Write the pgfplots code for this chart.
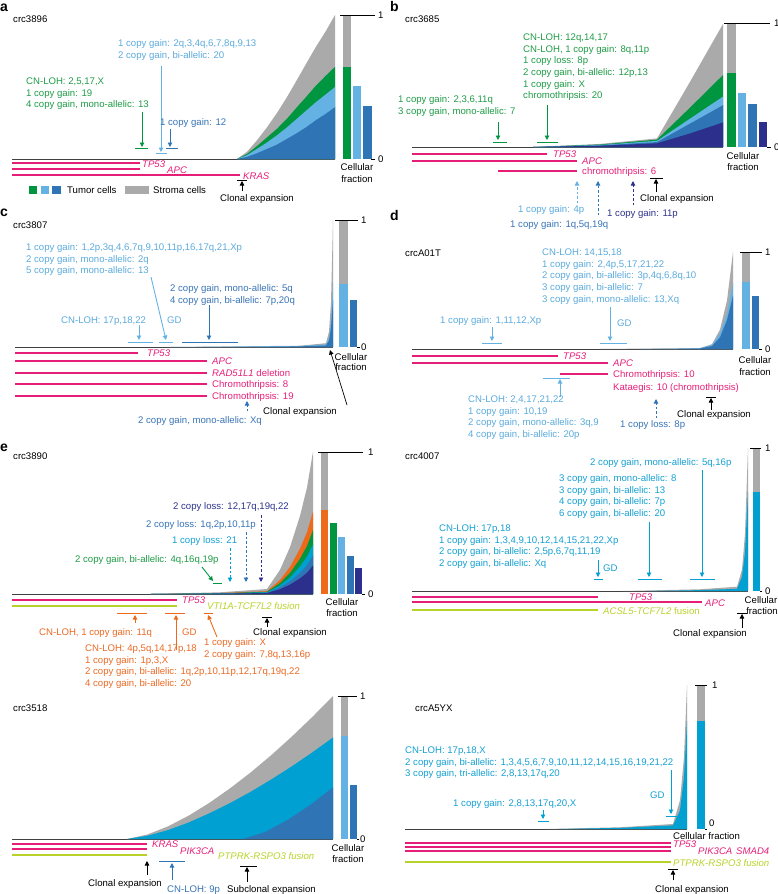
\documentclass[border=0pt]{standalone}
\usepackage{pgfplots}
\pgfplotsset{compat=1.18}
\usetikzlibrary{arrows.meta}
\usepackage{fontspec}
\setmainfont{Liberation Sans}

\definecolor{cgray}{RGB}{170,170,170}
\definecolor{cgreen}{RGB}{0,150,64}
\definecolor{clblue}{RGB}{100,178,228}
\definecolor{cblue}{RGB}{47,117,182}
\definecolor{cnavy}{RGB}{44,48,140}
\definecolor{ccyan}{RGB}{0,160,210}
\definecolor{corange}{RGB}{238,106,27}
\definecolor{cpink}{RGB}{230,30,120}
\definecolor{clime}{RGB}{185,210,40}
\definecolor{tgreen}{RGB}{30,155,70}
\definecolor{tlblue}{RGB}{90,170,220}
\definecolor{tblue}{RGB}{55,115,180}
\definecolor{tcyan}{RGB}{20,160,210}
\definecolor{tnavy}{RGB}{45,50,140}
\definecolor{torange}{RGB}{235,105,35}

\newcommand{\fs}{\fontsize{9.6}{11.7}\selectfont}
\tikzset{
  lbl/.style={anchor=west, inner sep=0pt, text height=6.9pt, text depth=0pt, font=\fs},
  arr/.style={-{Triangle[length=4.5pt,width=4.5pt]}, line width=0.9pt},
  tb/.style={line width=0.9pt},
  mut/.style={line width=1.1pt},
  lett/.style={anchor=base west, inner sep=0pt, font=\bfseries\fontsize{14}{14}\selectfont},
  dsh/.style={dash pattern=on 2.5pt off 2pt}
}
\pgfplotsset{panel/.style={scale only axis, hide axis, clip=false, ymin=0, ymax=1, anchor=south west}}
% one text line after another, 11.7pt apart
\newcommand{\txt}[4]{\foreach \tline [count=\i from 0] in {#4} {\node[lbl,text=#1] at (#2,{#3+11.7*\i}) {\tline};}}
% fraction-axis ticks: top line, zero tick
\newcommand{\cfticks}[7]{%
  \draw[tb] (#1,#3) -- (#2,#3); \node[lbl] at (#7,#3) {1};
  \draw[tb] (#5,#4) -- (#6,#4); \node[lbl] at (#7,#4) {0};}

\begin{document}
\begin{tikzpicture}[x=1pt,y=-1pt]
\useasboundingbox (0,0) rectangle (778,894);

%% ---------------- a : crc3896
\begin{axis}[panel, at={(12pt,-159pt)}, xmin=12, xmax=375, width=363pt, height=144pt]
\addplot[black!75, line width=0.8pt] coordinates {(12,0) (335,0)};
\addplot[fill=cgray, draw=none] coordinates {(237,0) (247,0.05) (257,0.13) (267,0.22) (277,0.32) (287,0.43) (297,0.55) (306,0.66) (316,0.78) (326,0.89) (335,1)} \closedcycle;
\addplot[fill=cgreen, draw=none] coordinates {(237,0) (247,0.035) (257,0.09) (267,0.15) (277,0.21) (287,0.28) (297,0.36) (306,0.43) (316,0.51) (326,0.58) (335,0.64)} \closedcycle;
\addplot[fill=clblue, draw=none] coordinates {(237,0) (247,0.027) (257,0.07) (267,0.115) (277,0.165) (287,0.22) (297,0.28) (306,0.335) (316,0.395) (326,0.45) (335,0.5)} \closedcycle;
\addplot[fill=cblue, draw=none] coordinates {(237,0) (247,0.015) (257,0.04) (267,0.07) (277,0.1) (287,0.14) (297,0.18) (306,0.22) (316,0.27) (326,0.315) (335,0.36)} \closedcycle;
\addplot[ybar, bar width=8.5, bar shift=0pt, fill=cgray, draw=none] coordinates {(347,1)};
\addplot[ybar, bar width=8.5, bar shift=0pt, fill=cgreen, draw=none] coordinates {(347,0.64)};
\addplot[ybar, bar width=8, bar shift=0pt, fill=clblue, draw=none] coordinates {(357,0.51)};
\addplot[ybar, bar width=8.5, bar shift=0pt, fill=cblue, draw=none] coordinates {(367.5,0.37)};
\end{axis}
\cfticks{340}{375}{15}{159}{371}{375}{378}
\node[lbl,anchor=center] at (357,167) {Cellular};
\node[lbl,anchor=center] at (357,179) {fraction};
\node[lett] at (0,11) {a};
\node[lbl] at (13,19) {crc3896};
\txt{tlblue}{118}{43}{{1 copy gain: 2q,3,4q,6,7,8q,9,13},{2 copy gain, bi-allelic: 20}}
\draw[arr,clblue] (161,66) -- (161,152); \draw[tb,clblue] (156,153) -- (167,153);
\txt{tgreen}{26}{81}{{CN-LOH: 2,5,17,X},{1 copy gain: 19},{4 copy gain, mono-allelic: 13}}
\draw[arr,cgreen] (142,112) -- (142,147); \draw[tb,cgreen] (135,148) -- (148,148);
\node[lbl,text=tblue] at (160,122) {1 copy gain: 12};
\draw[arr,cblue] (170,129) -- (170,147); \draw[tb,cblue] (166,148) -- (178,148);
\draw[mut,cpink] (12,163) -- (140,163); \draw[mut,cpink] (12,169) -- (140,169); \draw[mut,cpink] (12,175) -- (240,175);
\node[lbl,text=cpink] at (142,164) {\itshape TP53};
\node[lbl,text=cpink] at (167,170) {\itshape APC};
\node[lbl,text=cpink] at (243,176) {\itshape KRAS};
\draw[arr,black,line width=0.7pt] (242,191) -- (242,181); \draw[black,line width=0.7pt] (237,180) -- (247,180);
\node[lbl] at (220,198) {Clonal expansion};
\fill[cgreen] (29,186) rectangle (37,194); \fill[clblue] (41,186) rectangle (49,194); \fill[cblue] (52,186) rectangle (61,194);
\node[lbl] at (67,190) {Tumor cells};
\fill[cgray] (125,186) rectangle (149,194);
\node[lbl] at (153,190) {Stroma cells};

%% ---------------- b : crc3685
\begin{axis}[panel, at={(412pt,-147pt)}, xmin=412, xmax=770, width=358pt, height=123pt]
\addplot[black!75, line width=0.8pt] coordinates {(412,0) (723,0)};
\addplot[fill=cgray, draw=none] coordinates {(533,0) (600,0.025) (657,0.07) (690,0.53) (723,1)} \closedcycle;
\addplot[fill=cgreen, draw=none] coordinates {(533,0) (600,0.02) (657,0.06) (690,0.32) (723,0.585)} \closedcycle;
\addplot[fill=clblue, draw=none] coordinates {(533,0) (600,0.016) (657,0.05) (690,0.23) (723,0.41)} \closedcycle;
\addplot[fill=cblue, draw=none] coordinates {(533,0) (600,0.013) (657,0.04) (690,0.19) (723,0.34)} \closedcycle;
\addplot[fill=cnavy, draw=none] coordinates {(533,0) (600,0.01) (657,0.03) (690,0.11) (723,0.2)} \closedcycle;
\addplot[ybar, bar width=9, bar shift=0pt, fill=cgray, draw=none] coordinates {(731.5,1)};
\addplot[ybar, bar width=9, bar shift=0pt, fill=cgreen, draw=none] coordinates {(731.5,0.6)};
\addplot[ybar, bar width=8.5, bar shift=0pt, fill=clblue, draw=none] coordinates {(742,0.44)};
\addplot[ybar, bar width=8.5, bar shift=0pt, fill=cblue, draw=none] coordinates {(752.5,0.35)};
\addplot[ybar, bar width=8.5, bar shift=0pt, fill=cnavy, draw=none] coordinates {(763,0.2)};
\end{axis}
\cfticks{724}{770}{23}{147}{767}{771}{774}
\node[lbl,anchor=center] at (743,156) {Cellular};
\node[lbl,anchor=center] at (743,167) {fraction};
\node[lett] at (390,11) {b};
\node[lbl] at (405,19) {crc3685};
\txt{tgreen}{523}{37}{{CN-LOH: 12q,14,17},{CN-LOH, 1 copy gain: 8q,11p},{1 copy loss: 8p},{2 copy gain, bi-allelic: 12p,13},{1 copy gain: X},{chromothripsis: 20}}
\txt{tgreen}{398}{99}{{1 copy gain: 2,3,6,11q},{3 copy gain, mono-allelic: 7}}
\draw[arr,cgreen] (498,122) -- (498,140); \draw[tb,cgreen] (493,142) -- (507,142);
\draw[arr,cgreen] (547,105) -- (547,140); \draw[tb,cgreen] (537,142) -- (558,142);
\draw[mut,cpink] (412,154) -- (547,154); \draw[mut,cpink] (412,161) -- (577,161); \draw[mut,cpink] (498,171) -- (577,171);
\node[lbl,text=cpink] at (553,154) {\itshape TP53};
\node[lbl,text=cpink] at (582,161) {\itshape APC};
\node[lbl,text=cpink] at (582,171) {chromothripsis: 6};
\draw[arr,dsh,clblue] (577,203) -- (577,181);
\draw[arr,dsh,cblue] (598,215) -- (598,181);
\draw[arr,dsh,cnavy] (633,205) -- (633,181);
\node[lbl,text=tlblue] at (518,209) {1 copy gain: 4p};
\node[lbl,text=tblue] at (510,224) {1 copy gain: 1q,5q,19q};
\node[lbl,text=tnavy] at (607,213) {1 copy gain: 11p};
\draw[arr,black,line width=0.7pt] (656,192) -- (656,179); \draw[black,line width=0.7pt] (650,178) -- (663,178);
\node[lbl] at (640,198) {Clonal expansion};

%% ---------------- c : crc3807
\begin{axis}[panel, at={(15pt,-347pt)}, xmin=15, xmax=362, width=347pt, height=127pt]
\addplot[black!75, line width=0.8pt] coordinates {(15,0) (333,0)};
\addplot[fill=cgray, draw=none] coordinates {(170,0) (300,0.01) (326,0.03) (329,0.12) (331,0.35) (333,1)} \closedcycle;
\addplot[fill=clblue, draw=none] coordinates {(170,0) (300,0.008) (326,0.02) (329,0.07) (331,0.2) (333,0.5)} \closedcycle;
\addplot[fill=cblue, draw=none] coordinates {(250,0) (300,0.005) (326,0.012) (329,0.05) (331,0.15) (333,0.37)} \closedcycle;
\addplot[ybar, bar width=9, bar shift=0pt, fill=cgray, draw=none] coordinates {(343.5,1)};
\addplot[ybar, bar width=9, bar shift=0pt, fill=clblue, draw=none] coordinates {(343.5,0.5)};
\addplot[ybar, bar width=7.5, bar shift=0pt, fill=cblue, draw=none] coordinates {(353.5,0.37)};
\end{axis}
\cfticks{335}{358}{220}{347}{357}{360}{361}
\node[lbl,anchor=center] at (351,357) {Cellular};
\node[lbl,anchor=center] at (351,367) {fraction};
\node[lett] at (0,216) {c};
\node[lbl] at (13,225) {crc3807};
\txt{tlblue}{26}{247}{{1 copy gain: 1,2p,3q,4,6,7q,9,10,11p,16,17q,21,Xp},{2 copy gain, mono-allelic: 2q},{5 copy gain, mono-allelic: 13}}
\txt{tblue}{170}{288}{{2 copy gain, mono-allelic: 5q},{4 copy gain, bi-allelic: 7p,20q}}
\node[lbl,text=tlblue] at (61,320) {CN-LOH: 17p,18,22};
\node[lbl,text=tlblue] at (167,320) {GD};
\draw[arr,clblue] (139,325) -- (139,340); \draw[tb,clblue] (128,342) -- (153,342);
\draw[arr,clblue] (151,277) -- (166,340); \draw[tb,clblue] (159,342) -- (173,342);
\draw[arr,cblue] (209,305) -- (209,340); \draw[tb,cblue] (182,342) -- (238,342);
\draw[mut,cpink] (15,353) -- (138,353); \node[lbl,text=cpink] at (147,353) {\itshape TP53};
\draw[mut,cpink] (15,361) -- (207,361); \node[lbl,text=cpink] at (212,361) {\itshape APC};
\draw[mut,cpink] (15,373) -- (207,373); \node[lbl,text=cpink] at (212,373) {{\itshape RAD51L1} deletion};
\draw[mut,cpink] (15,384) -- (207,384); \node[lbl,text=cpink] at (212,384) {Chromothripsis: 8};
\draw[mut,cpink] (15,396) -- (207,396); \node[lbl,text=cpink] at (212,396) {Chromothripsis: 19};
\draw[arr,dsh,cblue] (247,411) -- (247,401);
\node[lbl,text=tblue] at (138,420) {2 copy gain, mono-allelic: Xq};
\draw[arr,black,line width=0.7pt] (347,405) -- (330,350);
\node[lbl] at (263,411) {Clonal expansion};

%% ---------------- d : crcA01T
\begin{axis}[panel, at={(412pt,-349pt)}, xmin=412, xmax=765, width=353pt, height=97pt]
\addplot[black!75, line width=0.8pt] coordinates {(412,0) (733,0)};
\addplot[fill=cgray, draw=none] coordinates {(600,0) (700,0.01) (712,0.05) (720,0.2) (727,0.5) (733,1)} \closedcycle;
\addplot[fill=clblue, draw=none] coordinates {(640,0) (700,0.008) (712,0.04) (720,0.16) (727,0.36) (733,0.69)} \closedcycle;
\addplot[fill=cblue, draw=none] coordinates {(680,0) (700,0.005) (712,0.03) (720,0.12) (727,0.3) (733,0.55)} \closedcycle;
\addplot[ybar, bar width=8, bar shift=0pt, fill=cgray, draw=none] coordinates {(746,1)};
\addplot[ybar, bar width=8, bar shift=0pt, fill=clblue, draw=none] coordinates {(746,0.69)};
\addplot[ybar, bar width=7, bar shift=0pt, fill=cblue, draw=none] coordinates {(755.5,0.55)};
\end{axis}
\cfticks{740}{762}{252}{349}{759}{762}{765}
\node[lbl,anchor=center] at (755,360) {Cellular};
\node[lbl,anchor=center] at (755,372) {fraction};
\node[lett] at (390,220) {d};
\node[lbl] at (405,253) {crcA01T};
\txt{tlblue}{542}{252}{{CN-LOH: 14,15,18},{1 copy gain: 2,4p,5,17,21,22},{2 copy gain, bi-allelic: 3p,4q,6,8q,10},{3 copy gain, bi-allelic: 7},{3 copy gain, mono-allelic: 13,Xq}}
\node[lbl,text=tlblue] at (440,320) {1 copy gain: 1,11,12,Xp};
\draw[arr,clblue] (492,327) -- (492,341); \draw[tb,clblue] (482,343) -- (502,343);
\node[lbl,text=tlblue] at (617,323) {GD};
\draw[arr,clblue] (610,307) -- (610,341); \draw[tb,clblue] (600,343) -- (627,343);
\draw[mut,cpink] (412,356) -- (558,356); \node[lbl,text=cpink] at (563,356) {\itshape TP53};
\draw[mut,cpink] (412,363) -- (608,363); \node[lbl,text=cpink] at (613,363) {\itshape APC};
\draw[mut,cpink] (560,374) -- (608,374); \node[lbl,text=cpink] at (613,374) {Chromothripsis: 10};
\node[lbl,text=cpink] at (613,387) {Kataegis: 10 (chromothripsis)};
\draw[arr,clblue] (560,397) -- (560,379); \draw[tb,clblue] (543,378) -- (570,378);
\txt{tlblue}{468}{399}{{CN-LOH: 2,4,17,21,22},{1 copy gain: 10,19},{2 copy gain, mono-allelic: 3q,9},{4 copy gain, bi-allelic: 20p}}
\draw[arr,dsh,cblue] (656,418) -- (656,399);
\node[lbl,text=tblue] at (620,424) {1 copy loss: 8p};
\draw[arr,black,line width=0.7pt] (711,410) -- (711,398); \draw[black,line width=0.7pt] (706,397) -- (716,397);
\node[lbl] at (677,414) {Clonal expansion};

%% ---------------- e : crc3890
\begin{axis}[panel, at={(12pt,-594pt)}, xmin=12, xmax=368, width=356pt, height=142pt]
\addplot[black!75, line width=0.8pt] coordinates {(12,0) (313,0)};
\addplot[fill=cgray, draw=none] coordinates {(150,0) (220,0.012) (267,0.035) (280,0.17) (290,0.33) (300,0.55) (307,0.75) (313,1)} \closedcycle;
\addplot[fill=corange, draw=none] coordinates {(150,0) (220,0.007) (267,0.02) (280,0.099) (290,0.191) (300,0.319) (307,0.435) (313,0.58)} \closedcycle;
\addplot[fill=cgreen, draw=none] coordinates {(150,0) (220,0.005) (267,0.016) (280,0.077) (290,0.149) (300,0.248) (307,0.338) (313,0.45)} \closedcycle;
\addplot[fill=ccyan, draw=none] coordinates {(150,0) (220,0.004) (267,0.012) (280,0.06) (290,0.116) (300,0.193) (307,0.263) (313,0.35)} \closedcycle;
\addplot[fill=cblue, draw=none] coordinates {(150,0) (220,0.003) (267,0.009) (280,0.046) (290,0.089) (300,0.149) (307,0.203) (313,0.27)} \closedcycle;
\addplot[fill=cnavy, draw=none] coordinates {(150,0) (220,0.002) (267,0.007) (280,0.034) (290,0.066) (300,0.11) (307,0.15) (313,0.2)} \closedcycle;
\addplot[ybar, bar width=7, bar shift=0pt, fill=cgray, draw=none] coordinates {(324.5,1)};
\addplot[ybar, bar width=7, bar shift=0pt, fill=corange, draw=none] coordinates {(324.5,0.59)};
\addplot[ybar, bar width=7, bar shift=0pt, fill=cgreen, draw=none] coordinates {(333.5,0.5)};
\addplot[ybar, bar width=7, bar shift=0pt, fill=clblue, draw=none] coordinates {(341.5,0.4)};
\addplot[ybar, bar width=7, bar shift=0pt, fill=cblue, draw=none] coordinates {(350,0.27)};
\addplot[ybar, bar width=7, bar shift=0pt, fill=cnavy, draw=none] coordinates {(358.5,0.18)};
\end{axis}
\cfticks{318}{363}{452}{594}{362}{365}{368}
\node[lbl,anchor=center] at (342,602) {Cellular};
\node[lbl,anchor=center] at (342,613) {fraction};
\node[lett] at (0,451) {e};
\node[lbl] at (13,456) {crc3890};
\node[lbl,text=tnavy] at (173,506) {2 copy loss: 12,17q,19q,22};
\node[lbl,text=tblue] at (146,524) {2 copy loss: 1q,2p,10,11p};
\node[lbl,text=tcyan] at (172,540) {1 copy loss: 21};
\node[lbl,text=tgreen] at (75,559) {2 copy gain, bi-allelic: 4q,16q,19p};
\draw[arr,dsh,cnavy] (261,515) -- (261,582);
\draw[arr,dsh,cblue] (246,532) -- (246,582);
\draw[arr,dsh,ccyan] (230,548) -- (230,582);
\draw[arr,cgreen] (202,567) -- (213,581); \draw[tb,cgreen] (213,583) -- (222,583);
\draw[mut,cpink] (12,600) -- (177,600); \node[lbl,text=cpink] at (182,600) {\itshape TP53};
\draw[mut,clime] (12,606) -- (177,606); \node[lbl,text=clime] at (207,606) {\itshape VTI1A-TCF7L2 fusion};
\draw[arr,corange] (135,623) -- (135,615); \draw[tb,corange] (117,613) -- (147,613);
\draw[arr,corange] (176,650) -- (176,615); \draw[tb,corange] (165,613) -- (185,613);
\draw[arr,corange] (217,637) -- (208,615); \draw[tb,corange] (204,613) -- (213,613);
\node[lbl,text=torange] at (39,632) {CN-LOH, 1 copy gain: 11q};
\node[lbl,text=torange] at (182,632) {GD};
\txt{torange}{204}{642}{{1 copy gain: X},{2 copy gain: 7,8q,13,16p}}
\txt{torange}{85}{648}{{CN-LOH: 4p,5q,14,17p,18},{1 copy gain: 1p,3,X},{2 copy gain, bi-allelic: 1q,2p,10,11p,12,17q,19q,22},{4 copy gain, bi-allelic: 20}}
\draw[arr,black,line width=0.7pt] (267,627) -- (267,618); \draw[black,line width=0.7pt] (262,617) -- (272,617);
\node[lbl] at (253,632) {Clonal expansion};

%% ---------------- crc4007
\begin{axis}[panel, at={(412pt,-591pt)}, xmin=412, xmax=765, width=353pt, height=143pt]
\addplot[black!75, line width=0.8pt] coordinates {(412,0) (748,0)};
\addplot[fill=cgray, draw=none] coordinates {(623,0) (700,0.012) (737,0.03) (742,0.15) (745,0.4) (748,1)} \closedcycle;
\addplot[fill=ccyan, draw=none] coordinates {(650,0) (700,0.006) (737,0.015) (742,0.1) (745,0.27) (748,0.69)} \closedcycle;
\addplot[ybar, bar width=7, bar shift=0pt, fill=cgray, draw=none] coordinates {(756.5,1)};
\addplot[ybar, bar width=7, bar shift=0pt, fill=ccyan, draw=none] coordinates {(756.5,0.69)};
\end{axis}
\cfticks{750}{761}{448}{591}{760}{762}{765}
\node[lbl,anchor=center] at (761,600) {Cellular};
\node[lbl,anchor=center] at (762,611) {fraction};
\node[lbl] at (405,456) {crc4007};
\node[lbl,text=tcyan] at (590,462) {2 copy gain, mono-allelic: 5q,16p};
\txt{tcyan}{559}{478}{{3 copy gain, mono-allelic: 8},{3 copy gain, bi-allelic: 13},{4 copy gain, bi-allelic: 7p},{6 copy gain, bi-allelic: 20}}
\txt{tcyan}{439}{528}{{CN-LOH: 17p,18},{1 copy gain: 1,3,4,9,10,12,14,15,21,22,Xp},{2 copy gain, bi-allelic: 2,5p,6,7q,11,19},{2 copy gain, bi-allelic: Xq}}
\node[lbl,text=tcyan] at (603,568) {GD};
\draw[arr,ccyan] (598,560) -- (598,577); \draw[tb,ccyan] (594,579) -- (603,579);
\draw[arr,ccyan] (649,522) -- (649,577); \draw[tb,ccyan] (638,579) -- (662,579);
\draw[arr,ccyan] (702,470) -- (702,577); \draw[tb,ccyan] (690,579) -- (715,579);
\draw[mut,cpink] (412,597) -- (598,597); \node[lbl,text=cpink] at (629,597) {\itshape TP53};
\draw[mut,cpink] (412,602) -- (702,602); \node[lbl,text=cpink] at (705,603) {\itshape APC};
\draw[mut,clime] (412,610) -- (598,610); \node[lbl,text=clime] at (603,611) {{\itshape ACSL5-TCF7L2} fusion};
\draw[arr,black,line width=0.7pt] (742,628) -- (742,614); \draw[black,line width=0.7pt] (737,613) -- (747,613);
\node[lbl] at (673,633) {Clonal expansion};

%% ---------------- crc3518
\begin{axis}[panel, at={(12pt,-839pt)}, xmin=12, xmax=360, width=348pt, height=143pt]
\addplot[black!75, line width=0.8pt] coordinates {(12,0) (333,0)};
\addplot[fill=cgray, draw=none] coordinates {(127,0) (147.6,0.032) (168.2,0.089) (188.8,0.164) (209.4,0.253) (230,0.354) (250.6,0.465) (271.2,0.586) (291.8,0.716) (312.4,0.854) (333,1)} \closedcycle;
\addplot[fill=ccyan, draw=none] coordinates {(127,0) (147.6,0.023) (168.2,0.063) (188.8,0.116) (209.4,0.18) (230,0.251) (250.6,0.33) (271.2,0.416) (291.8,0.508) (312.4,0.606) (333,0.71)} \closedcycle;
\addplot[fill=cblue, draw=none] coordinates {(243,0) (265.5,0.05) (288,0.135) (310.5,0.24) (333,0.36)} \closedcycle;
\addplot[ybar, bar width=7, bar shift=0pt, fill=cgray, draw=none] coordinates {(344.5,1)};
\addplot[ybar, bar width=7, bar shift=0pt, fill=clblue, draw=none] coordinates {(344.5,0.72)};
\addplot[ybar, bar width=7, bar shift=0pt, fill=cblue, draw=none] coordinates {(353.5,0.38)};
\end{axis}
\cfticks{338}{357}{696}{839}{357}{359}{360}
\node[lbl,anchor=center] at (348,848) {Cellular};
\node[lbl,anchor=center] at (348,859) {fraction};
\node[lbl] at (13,708) {crc3518};
\draw[mut,cpink] (12,844) -- (147,844); \draw[mut,cpink] (12,849) -- (147,849); \draw[mut,clime] (12,855) -- (147,855);
\node[lbl,text=cpink] at (152,844) {\itshape KRAS};
\node[lbl,text=cpink] at (180,851) {\itshape PIK3CA};
\node[lbl,text=clime] at (218,856) {\itshape PTPRK-RSPO3 fusion};
\draw[arr,black,line width=0.7pt] (147,875) -- (147,861);
\node[lbl] at (88,883) {Clonal expansion};
\draw[arr,cblue] (172,880) -- (172,863); \draw[tb,cblue] (159,861) -- (185,861);
\node[lbl,text=tblue] at (167,889) {CN-LOH: 9p};
\draw[arr,black,line width=0.7pt] (247,882) -- (247,867); \draw[black,line width=0.7pt] (240,866) -- (257,866);
\node[lbl] at (227,889) {Subclonal expansion};

%% ---------------- crcA5YX
\begin{axis}[panel, at={(405pt,-829pt)}, xmin=405, xmax=712, width=307pt, height=144pt]
\addplot[black!75, line width=0.8pt] coordinates {(405,0) (687,0)};
\addplot[fill=cgray, draw=none] coordinates {(547,0) (620,0.012) (673,0.035) (680,0.2) (684,0.5) (687,1)} \closedcycle;
\addplot[fill=ccyan, draw=none] coordinates {(560,0) (620,0.008) (673,0.025) (680,0.13) (684,0.36) (687,0.75)} \closedcycle;
\addplot[ybar, bar width=8, bar shift=0pt, fill=cgray, draw=none] coordinates {(701,1)};
\addplot[ybar, bar width=8, bar shift=0pt, fill=ccyan, draw=none] coordinates {(701,0.75)};
\end{axis}
\draw[tb] (695,685) -- (707,685); \node[lbl] at (712,685) {1};
\draw[tb] (705,829) -- (707,829); \node[lbl] at (709,823) {0};
\node[lbl] at (673,836) {Cellular fraction};
\node[lbl] at (415,708) {crcA5YX};
\txt{tcyan}{405}{750}{{CN-LOH: 17p,18,X},{2 copy gain, bi-allelic: 1,3,4,5,6,7,9,10,11,12,14,15,16,19,21,22},{3 copy gain, tri-allelic: 2,8,13,17q,20}}
\node[lbl,text=tcyan] at (453,803) {1 copy gain: 2,8,13,17q,20,X};
\node[lbl,text=tcyan] at (650,795) {GD};
\draw[arr,ccyan] (543,810) -- (543,819); \draw[tb,ccyan] (538,821) -- (549,821);
\draw[arr,ccyan] (671,770) -- (671,814); \draw[tb,ccyan] (666,816) -- (677,816);
\draw[mut,cpink] (405,843) -- (671,843); \draw[mut,cpink] (405,847) -- (671,847); \draw[mut,cpink] (405,851) -- (671,851);
\draw[mut,clime] (405,862) -- (671,862);
\node[lbl,text=cpink] at (673,844) {\itshape TP53};
\node[lbl,text=cpink] at (698,851) {\itshape PIK3CA};
\node[lbl,text=cpink] at (736,851) {\itshape SMAD4};
\node[lbl,text=clime] at (673,863) {\itshape PTPRK-RSPO3 fusion};
\draw[arr,black,line width=0.7pt] (673,880) -- (673,870); \draw[black,line width=0.7pt] (668,869) -- (678,869);
\node[lbl] at (655,889) {Clonal expansion};
\end{tikzpicture}
\end{document}
